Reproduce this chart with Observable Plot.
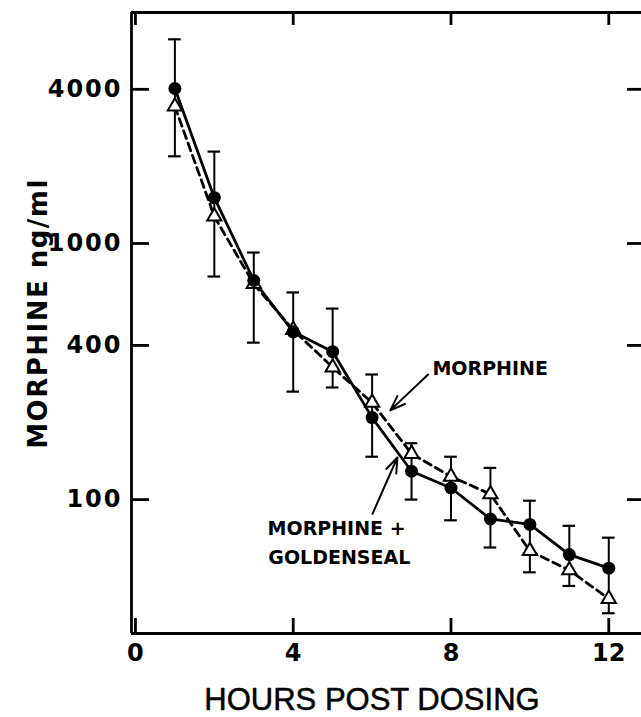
<!DOCTYPE html>
<html><head><meta charset="utf-8">
<script src="https://cdn.jsdelivr.net/npm/d3@7"></script>
<script src="https://cdn.jsdelivr.net/npm/@observablehq/plot@0.6"></script>
<style>body{margin:0;background:#fff}</style>
</head><body><div id="chart"></div>
<script>
// ---- data ----
const hours = [1, 2, 3, 4, 5, 6, 7, 8, 9, 10, 11, 12];
const morphineGoldenseal = [4030, 1510, 717, 452, 378, 209, 129, 111, 84, 80, 61, 54]; // filled circles, solid line
const morphineOnly = [3430, 1275, 695, 460, 328, 239, 151, 123, 105, 63, 53, 41];     // open triangles, dashed line
const errHigh = [6270, 2285, 922, 644, 557, 308, 166, 147, 133, 99, 79, 71];
const errLow = [2190, 743, 410, 264, 274, 147, 100, 83, 65, 52, 46, 36];
const xTicks = [0, 4, 8, 12];
const yTicks = [100, 400, 1000, 4000];
const xLabel = "HOURS POST DOSING";
const yLabel = "MORPHINE ng/ml";
const annoText = ["MORPHINE", "MORPHINE +", "GOLDENSEAL"];
const annoX = [7.53, 3.35, 3.37];
const annoY = [325, 77, 59];
const arrowFromX = [7.42, 6.01];
const arrowFromY = [308, 88];
const arrowToX = [6.46, 6.64];
const arrowToY = [223, 146];

// ---- layout ----
const W = 641, H = 717;
const mL = 131, mR = 0, mT = 12, mB = 84;
const innerW = W - mL - mR, innerH = H - mT - mB;
const xDomain = [-0.1, 12.83];
const yDomain = [30, 7980];

const solid = hours.map((t, i) => ({t, v: morphineGoldenseal[i]}));
const dashed = hours.map((t, i) => ({t, v: morphineOnly[i]}));
const errs = hours.map((t, i) => ({t, lo: errLow[i], hi: errHigh[i]}));
const caps = hours.flatMap((t, i) => [{t, v: errLow[i]}, {t, v: errHigh[i]}]);
const annos = annoText.map((s, i) => ({s, x: annoX[i], y: annoY[i]}));
const arrows = arrowFromX.map((x, i) => ({x1: x, y1: arrowFromY[i], x2: arrowToX[i], y2: arrowToY[i]}));

const sw = 2.8;
const chart = Plot.plot({
  width: W, height: H,
  marginLeft: mL, marginRight: mR, marginTop: mT, marginBottom: mB,
  style: {fontFamily: "DejaVu Sans", background: "white", color: "black"},
  x: {domain: xDomain},
  y: {type: "log", domain: yDomain},
  marks: [
    // frame (left, top, bottom)
    Plot.ruleX([xDomain[0]], {strokeWidth: sw}),
    Plot.ruleY([yDomain[0], yDomain[1]], {strokeWidth: sw}),
    // inward ticks
    Plot.tickY(yTicks, {y: d => d, insetRight: innerW - 18, strokeWidth: sw}),
    Plot.tickY(yTicks, {y: d => d, insetLeft: innerW - 14, strokeWidth: sw}),
    Plot.tickX(xTicks, {x: d => d, insetTop: innerH - 15, strokeWidth: sw}),
    Plot.tickX(xTicks, {x: d => d, insetBottom: innerH - 13, strokeWidth: sw}),
    // error bars
    Plot.ruleX(errs, {x: "t", y1: "lo", y2: "hi", strokeWidth: 2}),
    Plot.ruleY(caps, {y: "v", x1: d => d.t - 0.16, x2: d => d.t + 0.16, strokeWidth: 2.2}),
    // lines
    Plot.line(dashed, {x: "t", y: "v", strokeWidth: 2.8, strokeDasharray: "8,5"}),
    Plot.line(solid, {x: "t", y: "v", strokeWidth: 2.8}),
    // symbols
    Plot.dot(dashed, {x: "t", y: "v", symbol: "triangle", r: 5.3, fill: "white", stroke: "black", strokeWidth: 2}),
    Plot.dot(solid, {x: "t", y: "v", r: 6.5, fill: "black", stroke: "none"}),
    // annotations
    Plot.arrow(arrows, {x1: "x1", y1: "y1", x2: "x2", y2: "y2", strokeWidth: 2, headLength: 12, headAngle: 40}),
    Plot.text(annos, {x: "x", y: "y", text: "s", textAnchor: "start", fontSize: 19, fontWeight: "bold"}),
    // axes
    Plot.axisY(yTicks, {tickSize: 0, tickPadding: 9, tickFormat: d => String(d), fontSize: 24, fontWeight: "bold", label: null}),
    Plot.axisX(xTicks, {tickSize: 0, tickPadding: 10, tickFormat: d => String(d), fontSize: 24, fontWeight: "bold", label: null}),
    // axis titles
    Plot.text([xLabel], {frameAnchor: "bottom", dx: -14.5, dy: 76, fontSize: 31, fontFamily: "Liberation Sans", fill: "black", stroke: "black", strokeWidth: 0.5, text: d => d}),
    Plot.text([yLabel], {frameAnchor: "left", textAnchor: "middle", rotate: -90, dx: -93, dy: -9.5, fontSize: 26, fontWeight: "bold", text: d => d})
  ]
});
document.getElementById("chart").appendChild(chart);
const svg = d3.select(chart);
svg.selectAll("text").filter(function() { return this.textContent === yLabel; }).style("letter-spacing", "1.5px");
svg.selectAll('g[aria-label="y-axis tick label"] text')
  .style("font-family", "DejaVu Sans").style("font-weight", "bold").style("letter-spacing", "2px");
svg.selectAll('g[aria-label="x-axis tick label"] text')
  .style("font-family", "DejaVu Sans").style("font-weight", "bold");
</script>
</body></html>
